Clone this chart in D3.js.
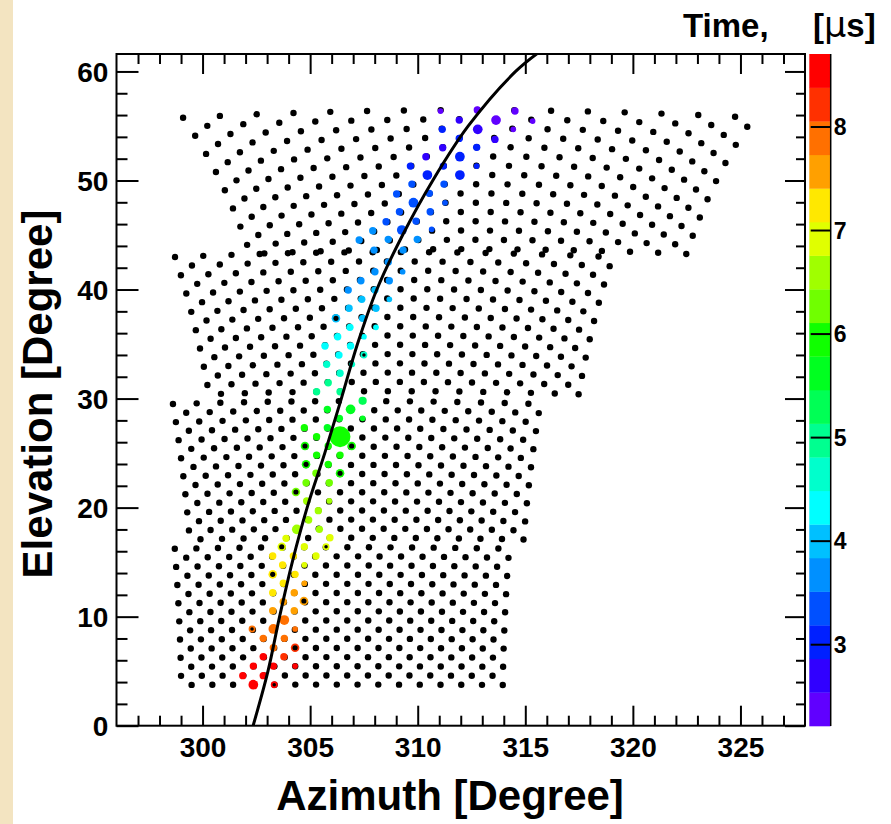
<!DOCTYPE html>
<html>
<head>
<meta charset="utf-8">
<title>Pixel times, azimuth vs elevation</title>
<script src="https://d3js.org/d3.v7.min.js"></script>
<style>
body { margin: 0; background: white; }
text { font-family: "Liberation Sans", Arial, sans-serif; font-weight: bold; }
</style>
</head>
<body>
<script>
// camera pixel grids (16 x 16 hexagonal)
var camAz = [306.48, 307.16, 308.89, 312.35];      // pointing azimuth of each camera
var camEl = [3.77, 17.23, 30.68, 43.71];           // elevation of its lowest row
var camRowPitch = [0.84, 0.836, 0.85, 0.85];
var camColPitch = [0.962, 0.956, 0.953, 0.945];
var camRows = 16, camCols = 16;

// triggered pixels: azimuth, elevation, time [us], signal, ring (pixel not used in fit)
var hitAz = [311.06,312.77,314.52,311.93,313.64,315.34,311.14,312.79,314.44,311.93,313.59,311.16,312.74,310.38,311.96,312.74,
  309.66,311.19,310.45,311.96,309.73,311.22,309.02,310.54,309.80,311.27,309.15,310.58,308.53,309.92,309.26,310.65,307.91,
  307.28,308.63,309.98,307.97,309.32,308.63,308.01,309.30,307.36,308.68,306.77,308.01,307.40,308.68,306.81,308.06,306.20,
  307.44,306.85,308.06,306.28,307.50,305.69,306.88,306.34,307.50,305.77,306.96,306.39,305.84,306.39,305.30,307.44,305.80,
  306.88,306.36,307.44,304.73,305.80,306.39,305.30,306.93,304.76,305.84,305.30,306.39,304.81,305.84,305.27,306.39,304.81,
  305.89,304.34,304.84,305.89,305.38,304.93,304.38,305.43,303.88,305.92,304.73,303.68,305.74,303.26,304.22,305.27,303.72,
  304.73,303.26,304.30,303.75,304.73,303.26,304.26,304.71,303.75,303.26,304.26,303.80,302.30,303.29,304.30,302.82,303.80,
  303.29,304.30,302.82,303.78,302.36,303.29,304.30,301.87,302.82,302.36,303.33];
var hitEl = [56.37,56.46,56.37,55.54,55.54,55.45,54.69,54.69,54.69,53.86,53.77,53.00,53.04,52.18,52.18,51.32,
  51.32,51.32,50.50,50.50,49.67,49.67,48.76,48.82,47.96,47.96,47.13,47.13,46.22,46.28,45.46,45.52,45.39,
  44.54,44.60,44.60,43.62,43.62,42.52,41.63,41.63,40.81,40.81,39.95,39.95,39.10,39.10,38.28,38.28,37.36,
  37.36,36.53,36.53,35.67,35.67,34.82,34.82,33.99,33.99,33.14,33.14,32.32,31.45,30.63,30.63,29.80,29.01,
  29.01,28.19,28.19,27.33,27.33,26.50,26.50,25.65,25.65,25.65,24.82,24.82,23.97,23.97,23.15,23.15,22.28,
  22.28,21.43,20.61,20.61,19.72,18.86,18.01,18.01,17.18,17.24,16.41,16.41,16.41,15.56,15.56,15.56,14.74,
  14.74,13.88,13.88,13.06,13.06,12.20,12.20,11.44,11.37,10.55,10.55,9.69,8.87,8.87,8.87,8.01,8.01,
  7.15,7.15,6.33,6.33,5.47,5.47,5.47,4.59,4.59,3.76,3.76];
var hitT = [2.35,2.35,2.35,2.7,2.4,2.4,3.0,2.8,2.5,2.9,2.6,2.6,2.9,2.7,2.9,2.9,
  3.1,3.0,3.1,3.1,3.2,3.2,3.3,3.3,3.3,3.4,3.4,3.4,3.5,3.5,3.5,3.5,3.6,
  3.6,3.6,3.8,3.8,3.8,3.7,3.75,3.6,3.8,3.7,3.8,3.85,3.85,3.85,3.9,3.95,4.0,
  4.15,4.2,4.2,4.3,4.3,4.4,4.35,4.45,4.5,4.6,4.6,4.7,4.9,5.0,5.0,5.3,5.5,
  5.5,5.6,5.6,5.9,5.7,5.8,5.8,5.8,6.0,5.9,6.0,6.0,6.1,6.0,6.3,6.1,6.35,
  6.2,6.3,6.5,6.5,6.6,6.7,6.6,6.7,6.9,6.8,6.8,6.95,6.85,7.15,7.1,7.0,7.15,
  6.9,7.2,7.25,7.3,7.5,7.35,7.6,7.6,7.65,7.7,7.7,7.8,7.85,7.9,7.9,7.95,7.95,
  8.0,8.1,8.4,8.15,8.45,8.45,8.4,8.5,8.5,8.55,8.45];
var hitQ = [1.2,2,2,2,3.5,1.2,2,3.5,1.2,2,2,2,2,2,3.5,1.2,
  2,2,3.5,3.5,2,2,2,2,3.5,1.2,2,2,2,2,3.5,1.2,2,
  2,2,2,2,2,2,2,1.2,2,2,2,2,2,1.2,2,2,2,
  2,2,1.2,2,1.2,2,2,2,1.2,2,1.2,2,2,2,2,2.5,2,
  3.5,2,1.2,2,2,16,2,2,2,2,2,2,2,2,2,2,2,
  2,2,2,1.2,2,2,3.5,2,2,2,2,2,1.2,2,2,2,2,
  1.2,2,2,2,1.2,2,2,2,2,2,2,3.5,1.2,3.5,1.2,2,2,
  2,2,2,2,2,2,1.2,2,2,3.5,1.2];
var hitRing = [0,0,0,0,0,0,0,0,0,0,0,0,0,0,0,0,
  0,0,0,0,0,0,0,0,0,0,0,0,0,0,0,0,0,
  0,0,0,0,0,0,0,0,0,0,0,0,0,0,0,0,1,
  0,0,0,0,0,0,0,0,1,0,0,0,0,0,0,0,0,
  0,0,0,0,0,0,0,1,1,0,0,0,1,0,0,1,0,
  0,1,0,0,0,0,0,0,0,0,0,1,1,0,0,0,0,
  0,1,0,0,0,0,0,1,0,0,0,0,1,0,0,0,0,
  0,1,0,0,0,0,0,0,0,0,1];

// shower-detector-plane track
var trackEl = [0, 5, 10, 15, 20, 25, 30, 35, 40, 45, 50, 55, 60, 62];
var trackAz = [302.35, 303.04, 303.58, 304.17, 304.86, 305.68, 306.45, 307.2, 308.1, 309.3, 310.7, 312.35, 314.55, 315.8];

// axes and palette
var xMajor = [300, 305, 310, 315, 320, 325];
var yMajor = [0, 10, 20, 30, 40, 50, 60];
var zMajor = [3, 4, 5, 6, 7, 8];
var tRange = [2.21, 8.70];
var palette = ["#6000ff","#3000ff","#0020ff","#0050ff","#0090ff","#00c0ff","#00ffff","#00ffcc","#00ff90","#00ff55",
  "#00ff20","#10ff00","#70ff00","#a0ff00","#e0ff00","#ffe800","#ffa000","#ff7000","#ff3000","#ff0000"];

var width = 891, height = 824;
var svg = d3.select("body").append("svg")
  .attr("width", width)
  .attr("height", height);

svg.append("rect").attr("width", width).attr("height", height).attr("fill", "white");
// paper edge on the left
svg.append("rect").attr("x", 0).attr("y", 0).attr("width", 13).attr("height", height).attr("fill", "#f3e4c1");

var x = d3.scaleLinear().domain([296, 328]).range([116.5, 805]);
var y = d3.scaleLinear().domain([0, 61.6]).range([725.7, 54]);
var z = d3.scaleLinear().domain(tRange).range([726, 54]);
var r = d3.scaleSqrt().domain([0, 16]).range([0, 10.4]);

function timeColor(t) {
  var i = Math.floor((t - tRange[0]) / (tRange[1] - tRange[0]) * palette.length);
  return palette[Math.max(0, Math.min(palette.length - 1, i))];
}

var rad = Math.PI / 180;
// direction of pixel (row, col) of camera c, rows bend down away from the camera axis
function pixelDir(c, row, col) {
  var e = camEl[c] + row * camRowPitch[c];
  var off = (row % 2 == 0) ? 0.25 : -0.25;
  var dAz = (col - 7.5 + off) * camColPitch[c] / Math.cos(e * rad);
  var sag = dAz * dAz * rad * Math.sin(e * rad) * Math.cos(e * rad) / 2;
  return [camAz[c] + dAz, e - sag];
}

var pixels = [];
camAz.forEach(function(a, c) {
  for (var i = 0; i < camRows; i++)
    for (var k = 0; k < camCols; k++) pixels.push(pixelDir(c, i, k));
});

svg.append("clipPath").attr("id", "frame")
  .append("rect").attr("x", 116.5).attr("y", 54).attr("width", 805 - 116.5).attr("height", 725.7 - 54);

var plot = svg.append("g").attr("clip-path", "url(#frame)");

plot.selectAll("circle.pix")
  .data(pixels)
  .enter().append("circle")
  .attr("class", "pix")
  .attr("cx", function(d) { return x(d[0]); })
  .attr("cy", function(d) { return y(d[1]); })
  .attr("r", 3.2)
  .attr("fill", "black");

var hits = hitAz.map(function(a, i) {
  return { az: a, el: hitEl[i], t: hitT[i], q: hitQ[i], ring: hitRing[i] };
});

plot.selectAll("circle.hit")
  .data(hits)
  .enter().append("circle")
  .attr("class", "hit")
  .attr("cx", function(d) { return x(d.az); })
  .attr("cy", function(d) { return y(d.el); })
  .attr("r", function(d) { return d.ring ? r(d.q) + 0.6 : r(d.q); })
  .attr("fill", function(d) { return timeColor(d.t); });

plot.selectAll("circle.ring")
  .data(hits.filter(function(d) { return d.ring; }))
  .enter().append("circle")
  .attr("class", "ring")
  .attr("cx", function(d) { return x(d.az); })
  .attr("cy", function(d) { return y(d.el); })
  .attr("r", function(d) { return r(d.q) - 1.1; })
  .attr("fill", "black");

var track = trackEl.map(function(e, i) { return [trackAz[i], e]; });
plot.append("path")
  .datum(track)
  .attr("d", d3.line()
    .x(function(d) { return x(d[0]); })
    .y(function(d) { return y(d[1]); })
    .curve(d3.curveCatmullRom))
  .attr("fill", "none")
  .attr("stroke", "black")
  .attr("stroke-width", 3);

// axes, ticks pointing inwards on all four sides
function style(g) {
  g.select(".domain").remove();
  g.selectAll("line").attr("stroke", "black").attr("stroke-width", 2);
  g.selectAll("text").attr("fill", "black").attr("font-family", null)
    .style("font-family", "'Liberation Sans', Arial, sans-serif").style("font-weight", "bold");
  g.attr("font-size", null);
}

var xMinor = d3.range(297, 328, 1).filter(function(v) { return xMajor.indexOf(v) < 0; });
var yMinor = d3.range(2, 61, 2).filter(function(v) { return yMajor.indexOf(v) < 0; });

svg.append("g").attr("transform", "translate(0,725.7)")
  .call(d3.axisBottom(x).tickValues(xMajor).tickSize(-20).tickPadding(11.5).tickFormat(d3.format("d")))
  .call(style).selectAll("text").style("font-size", "28px");
svg.append("g").attr("transform", "translate(0,725.7)")
  .call(d3.axisBottom(x).tickValues(xMinor).tickSize(-10).tickFormat("")).call(style);
svg.append("g").attr("transform", "translate(0,54)")
  .call(d3.axisTop(x).tickValues(xMajor).tickSize(-20).tickFormat("")).call(style);
svg.append("g").attr("transform", "translate(0,54)")
  .call(d3.axisTop(x).tickValues(xMinor).tickSize(-10).tickFormat("")).call(style);

svg.append("g").attr("transform", "translate(116.5,0)")
  .call(d3.axisLeft(y).tickValues(yMajor).tickSize(-22).tickPadding(8.2).tickFormat(d3.format("d")))
  .call(style).selectAll("text").style("font-size", "28px").attr("dy", "0.35em");
svg.append("g").attr("transform", "translate(116.5,0)")
  .call(d3.axisLeft(y).tickValues(yMinor).tickSize(-11).tickFormat("")).call(style);
svg.append("g").attr("transform", "translate(805,0)")
  .call(d3.axisRight(y).tickValues(yMajor).tickSize(-20).tickFormat("")).call(style);
svg.append("g").attr("transform", "translate(805,0)")
  .call(d3.axisRight(y).tickValues(yMinor).tickSize(-9).tickFormat("")).call(style);

svg.append("rect")
  .attr("x", 116.5).attr("y", 54).attr("width", 805 - 116.5).attr("height", 725.7 - 54)
  .attr("fill", "none").attr("stroke", "black").attr("stroke-width", 2);

// colour palette
var bandH = (z.range()[0] - z.range()[1]) / palette.length;
svg.selectAll("rect.band")
  .data(palette)
  .enter().append("rect")
  .attr("class", "band")
  .attr("x", 809.3)
  .attr("width", 21.4)
  .attr("y", function(d, i) { return z.range()[0] - (i + 1) * bandH; })
  .attr("height", bandH + 0.3)
  .attr("fill", function(d) { return d; });

svg.append("g").attr("transform", "translate(830.7,0)")
  .call(d3.axisRight(z).tickValues(zMajor).tickSize(-20).tickPadding(3).tickFormat(d3.format("d")))
  .call(style).selectAll("text").style("font-size", "23px").attr("dy", "0.35em");
svg.append("line").attr("x1", 830.7).attr("x2", 830.7).attr("y1", 54).attr("y2", 726)
  .attr("stroke", "black").attr("stroke-width", 1.5);

// titles
svg.append("text")
  .attr("x", 683).attr("y", 37)
  .style("font-size", "33px")
  .text("Time,");
var unit = svg.append("text")
  .attr("x", 813).attr("y", 37)
  .style("font-size", "33px");
unit.append("tspan").text("[");
unit.append("tspan").style("font-weight", "normal").style("font-family", "'DejaVu Sans', sans-serif")
  .style("font-size", "35px").text("\u03bc");
unit.append("tspan").text("s]");

svg.append("text")
  .attr("x", 450).attr("y", 810)
  .attr("text-anchor", "middle")
  .style("font-size", "42px")
  .text("Azimuth [Degree]");

svg.append("text")
  .attr("transform", "translate(52,394) rotate(-90)")
  .attr("text-anchor", "middle")
  .style("font-size", "42px")
  .text("Elevation [Degree]");
</script>
</body>
</html>
